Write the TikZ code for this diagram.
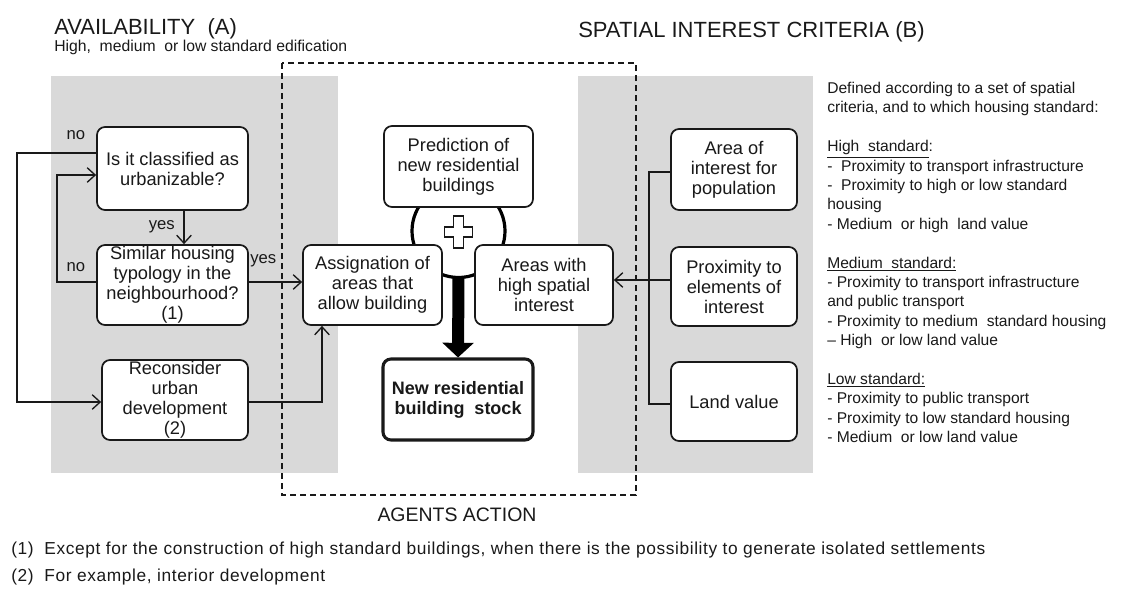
\documentclass[tikz,border=0pt]{standalone}
\usepackage{fontspec}
\setmainfont{Liberation Sans}
\newfontfamily\footfont[LetterSpace=3.5]{Liberation Sans}
\usetikzlibrary{arrows.meta}
\definecolor{panelgray}{RGB}{217,217,217}
\definecolor{ink}{RGB}{25,25,25}
\tikzset{
  sz/.style 2 args={minimum width=#1*0.75pt, minimum height=#2*0.75pt},
  box/.style={draw=ink, line width=1.3pt, rounded corners=6pt, fill=white,
    align=center, inner sep=0pt, font=\fontsize{13.7}{15}\selectfont},
  boldbox/.style={box, line width=2.3pt, font=\bfseries\fontsize{13.5}{15}\selectfont},
  arr/.style={draw=ink, line width=1pt, -{Straight Barb[length=6pt,width=11pt]}},
  conn/.style={draw=ink, line width=1pt},
  lab/.style={inner sep=0pt, font=\fontsize{12.5}{14}\selectfont},
  title/.style={inner sep=0pt, anchor=base west, font=\fontsize{16.5}{18}\selectfont},
  foot/.style={inner sep=0pt, anchor=base west, font=\footfont\fontsize{13}{14}\selectfont}
}
\begin{document}
\begin{tikzpicture}[x=0.75pt,y=-0.75pt, every node/.style={text=ink}]
\path[use as bounding box] (0,0) rectangle (1121,590);

% panels
\fill[panelgray] (51,76) rectangle (338,473);
\fill[panelgray] (578,76) rectangle (813,473);
\draw[ink, line width=1pt, dash pattern=on 4.5pt off 3pt] (282,63) rectangle (636,495);

% titles
\node[title] (tA) at (54,34) {AVAILABILITY~~(A)};
\node[inner sep=0pt, anchor=base west, font=\fontsize{11.8}{13}\selectfont] (tAsub) at (54,51) {High,~ medium~ or low standard edification};
\node[title] (tB) at (578,37) {SPATIAL INTEREST CRITERIA (B)};
\node[inner sep=0pt, anchor=base, font=\fontsize{14.6}{16}\selectfont] (tC) at (457,521) {AGENTS ACTION};

% circle with plus
\draw[line width=2.4pt, draw=black, fill=white] (458.5,231) circle[radius=46.5*0.75pt];
\draw[line width=1.2pt, draw=ink, fill=white]
  (453.5,216) -- (463.5,216) -- (463.5,227) -- (472.5,227) -- (472.5,237) -- (463.5,237)
  -- (463.5,248) -- (453.5,248) -- (453.5,237) -- (444.5,237) -- (444.5,227) -- (453.5,227) -- cycle;

% left boxes
\node[box, sz={151}{83}] (classify) at (172.5,168.5) {Is it classified as\\urbanizable?};
\node[box, sz={151}{80}] (similar) at (172.5,285) {Similar housing\\typology in the\\neighbourhood?\\(1)};
\node[box, sz={146}{80}] (reconsider) at (175,400) {Reconsider\\urban\\development\\(2)};

% centre boxes
\node[box, sz={149}{81}] (predict) at (458.5,166.5) {Prediction of\\new residential\\buildings};
\node[box, sz={139}{80}] (assign) at (372.5,285) {Assignation of\\areas that\\allow building};
\node[box, sz={138}{80}] (areas) at (544,285) {Areas with\\high spatial\\interest};
\node[boldbox, sz={150}{81}] (newstock) at (458,399.5) {New residential\\building~ stock};

% right boxes
\node[box, sz={126}{81}] (area) at (734,169.5) {Area of\\interest for\\population};
\node[box, sz={126}{79}] (prox) at (734,286.5) {Proximity to\\elements of\\interest};
\node[box, sz={126}{79}] (land) at (734,401.5) {Land value};

% thick arrow
\coordinate (thickstart) at (458.5,277);
\draw[line width=9pt, draw=black, -{Triangle[length=11pt,width=23pt]}] (thickstart) -- (newstock.north);

% left connectors
\draw[arr] (classify.south) ++(11.5,0) coordinate (ys) -- (ys |- similar.north);
\node[lab, anchor=east] (lyes1) at (175,227) {yes};
\coordinate (n1a) at (17,153);
\coordinate (n1b) at (17,402);
\draw[arr] (classify.west |- n1a) -- (n1a) -- (n1b) -- (reconsider.west |- n1b);
\node[lab] (lno1) at (76,135) {no};
\coordinate (n2a) at (57,282);
\coordinate (n2b) at (57,175);
\draw[arr] (similar.west |- n2a) -- (n2a) -- (n2b) -- (classify.west |- n2b);
\node[lab] (lno2) at (76,267) {no};
\coordinate (y2) at (0,282);
\draw[arr] (similar.east |- y2) -- (assign.west |- y2);
\node[lab, anchor=west] (lyes2) at (250,261) {yes};
\coordinate (r1) at (322,402);
\draw[arr] (reconsider.east |- r1) -- (r1) -- (r1 |- assign.south);

% right connectors
\coordinate (vtop) at (649,172);
\coordinate (vbot) at (649,404);
\draw[conn] (area.west |- vtop) -- (vtop) -- (vbot) -- (land.west |- vbot);
\coordinate (pa) at (0,280);
\draw[arr] (prox.west |- pa) -- (areas.east |- pa);

% criteria text
\node[anchor=north west, inner sep=0pt, align=left, font=\fontsize{11.7}{14.55}\selectfont] (crit) at (827,82) {%
Defined according to a set of spatial\\
criteria, and to which housing standard:\\[14.55pt]
\underline{High~ standard}:\\
-~ Proximity to transport infrastructure\\
-~ Proximity to high or low standard\\
housing\\
- Medium~ or high~ land value\\[14.55pt]
\underline{Medium~ standard:}\\
- Proximity to transport infrastructure\\
and public transport\\
- Proximity to medium~ standard housing\\
-- High~ or low land value\\[14.55pt]
\underline{Low standard:}\\
- Proximity to public transport\\
- Proximity to low standard housing\\
- Medium~ or low land value};

% footnotes
\node[foot] (f1) at (11,554) {(1)~~Except for the construction of high standard buildings, when there is the possibility to generate isolated settlements};
\node[foot] (f2) at (11,581) {(2)~~For example, interior development};
\end{tikzpicture}
\end{document}
